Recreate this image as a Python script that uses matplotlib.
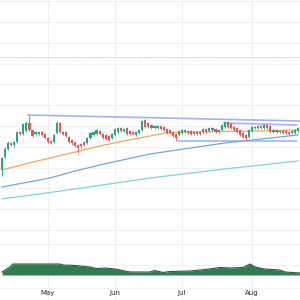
"""
Daily candlestick chart with moving averages, trendlines and a volume panel.
Saves out.png at 300x300 px.
"""

import matplotlib
matplotlib.use("Agg")
import matplotlib.pyplot as plt
import numpy as np
from matplotlib.ticker import MultipleLocator

# --- data ------------------------------------------------------------------
opens = [130, 143, 151, 157, 155, 158, 168, 166, 169, 177, 170, 166, 166, 168, 166, 162,
         159, 158, 167, 177, 166, 168, 163, 160, 158, 155, 156, 158, 157, 162, 165, 166,
         169, 166, 165, 164, 162, 165, 168, 172, 169, 172, 169, 168, 165, 167, 170, 180,
         177, 172, 174, 172, 174, 173, 171, 170, 168, 166, 165, 167, 168, 169, 169, 168,
         166, 168, 168, 171, 169, 170, 171, 168, 170, 173, 178, 176, 173, 172, 170, 167,
         165, 163, 169, 172, 172, 174, 172, 175, 174, 168, 170, 168, 169, 169, 168, 167,
         167, 169]
closes = [142, 151, 157, 155, 158, 168, 166, 176, 177, 170, 164, 168, 168, 165, 162, 158,
          157, 165, 177, 168, 168, 164, 158, 157, 154, 152, 154, 155, 162, 167, 168, 170,
          166, 162, 161, 160, 166, 171, 172, 169, 171, 166, 166, 166, 168, 170, 179, 173,
          173, 175, 172, 174, 171, 170, 167, 167, 164, 162, 169, 170, 170, 167, 166, 166,
          168, 166, 171, 168, 172, 172, 168, 170, 175, 178, 173, 172, 170, 168, 165, 163,
          162, 170, 173, 173, 174, 172, 175, 172, 168, 170, 168, 169, 167, 167, 166, 169,
          170, 172]
highs = [143, 153, 159, 158, 159, 169, 169, 177, 179, 185, 171, 169, 169, 169, 167, 163,
         160, 166, 179, 178, 169, 169, 164, 161, 159, 156, 157, 159, 163, 168, 169, 171,
         170, 167, 166, 165, 167, 172, 173, 173, 172, 173, 170, 169, 169, 171, 180, 181,
         178, 176, 175, 175, 175, 174, 172, 171, 169, 167, 170, 171, 171, 170, 170, 169,
         169, 169, 172, 172, 173, 173, 172, 171, 176, 179, 179, 177, 174, 173, 171, 168,
         166, 171, 174, 174, 175, 175, 176, 176, 175, 171, 171, 170, 170, 170, 169, 170,
         171, 173]
lows = [124, 142, 150, 154, 153, 157, 165, 165, 168, 169, 163, 165, 165, 164, 161, 157,
        156, 157, 166, 167, 165, 163, 157, 155, 153, 147, 152, 154, 156, 161, 164, 165,
        165, 161, 160, 159, 161, 164, 167, 168, 168, 165, 165, 165, 164, 166, 169, 172,
        172, 171, 171, 171, 170, 169, 166, 166, 163, 159, 164, 166, 167, 166, 165, 165,
        165, 165, 167, 167, 168, 169, 167, 167, 169, 172, 172, 171, 169, 167, 164, 162,
        160, 162, 168, 171, 171, 171, 171, 171, 167, 167, 167, 167, 166, 166, 165, 166,
        166, 168]

# moving averages: (trading-day index, value) vertices
ma_fast_idx = [0, 7.5, 15.7, 24, 32, 40, 48.5, 53.4, 60, 73, 84.6, 97]
ma_fast = [130, 136, 142, 148, 154, 159, 164, 167, 168, 168.5, 169, 170]
ma_mid_idx = [0, 15.7, 24, 32, 48.5, 73, 97]
ma_mid = [113, 122, 129, 135, 146, 157, 165]
ma_slow_idx = [0, 24, 48.5, 73, 97]
ma_slow = [101, 111, 122, 131, 139]

# trendlines: ((i0, p0), (i1, p1))
trendlines = [((8.2, 185), (97.7, 179)),
              ((72.5, 177), (96.8, 175)),
              ((57.7, 159), (96.8, 159))]
alert_level = 243

# volume profile
vol_idx = [0, 2.6, 3.6, 9.2, 19, 20, 24, 25.6, 28.9, 31, 33.8, 37, 40.3, 42, 48.5, 50,
           52.8, 55, 61.6, 66.6, 71.5, 74.8, 79, 81.3, 83, 86, 91, 92.8, 97.7]
vol = [3, 8, 11, 11, 11, 10, 9.5, 9, 8, 6.5, 7, 6, 4, 3, 3, 4.5,
       2.5, 3.5, 4, 5.5, 7.5, 7, 7.5, 11, 8, 6, 5, 3, 2]

month_pos = [15, 37, 59, 82]
month_labels = ["May", "Jun", "Jul", "Aug"]

UP = "#22a884"
DOWN = "#ef5350"
GRID = "#f1f1f4"


def main() -> None:
    fig = plt.figure(figsize=(3, 3), dpi=100)
    ax = fig.add_axes([0, 61 / 300, 1, 239 / 300])
    axv = fig.add_axes([0, 0, 1, 61 / 300])

    n = len(opens)
    idx = np.arange(n)
    o, c = np.array(opens, float), np.array(closes, float)
    colors = [UP if cc >= oo else DOWN for oo, cc in zip(o, c)]

    # price panel
    ax.vlines(idx, lows, highs, colors=colors, lw=0.6, zorder=3)
    ax.bar(idx, np.maximum(np.abs(c - o), 0.8), bottom=np.minimum(o, c),
           width=0.7, color=colors, lw=0, zorder=4)
    ax.plot(ma_fast_idx, ma_fast, color="#f5a55a", lw=0.9, zorder=2)
    ax.plot(ma_mid_idx, ma_mid, color="#6fa8dc", lw=0.9, zorder=2)
    ax.plot(ma_slow_idx, ma_slow, color="#7fd3dd", lw=0.9, zorder=2)
    for (x0, y0), (x1, y1) in trendlines:
        ax.plot([x0, x1], [y0, y1], color="#8aa2e8", lw=1.2, alpha=0.8,
                solid_capstyle="butt", zorder=2.5)
    ax.axhline(alert_level, color="#f4b4b4", lw=0.6, ls=(0, (1.5, 1)), zorder=1)

    ax.set_xlim(-0.66, 97.7)
    ax.set_ylim(61, 300)
    ax.yaxis.set_major_locator(MultipleLocator(20.8, offset=7.6))
    ax.set_xticks(month_pos)
    ax.grid(True, color=GRID, lw=0.8)
    ax.set_axisbelow(True)
    ax.tick_params(length=0, labelbottom=False, labelleft=False)
    for side in ("top", "left", "right"):
        ax.spines[side].set_visible(False)
    ax.spines["bottom"].set_color("#e4e4e8")
    ax.spines["bottom"].set_linewidth(0.8)

    # volume panel
    axv.fill_between(vol_idx, 0, vol, color="#2f7d4e", lw=0, zorder=2)
    axv.plot(vol_idx, vol, color="#235c3a", lw=0.8, zorder=3)
    axv.set_xlim(-0.66, 97.7)
    axv.set_ylim(-25, 36)
    axv.set_yticks([31, 10, -13])
    axv.set_xticks(month_pos)
    axv.set_xticklabels(month_labels)
    axv.grid(True, color=GRID, lw=0.8)
    axv.set_axisbelow(True)
    axv.tick_params(length=0, labelleft=False, labelsize=5, labelcolor="#2a2a2a", pad=-7.5)
    for side in ("top", "bottom", "left", "right"):
        axv.spines[side].set_visible(False)

    fig.savefig("out.png", dpi=100)
    plt.close(fig)


if __name__ == "__main__":
    main()
